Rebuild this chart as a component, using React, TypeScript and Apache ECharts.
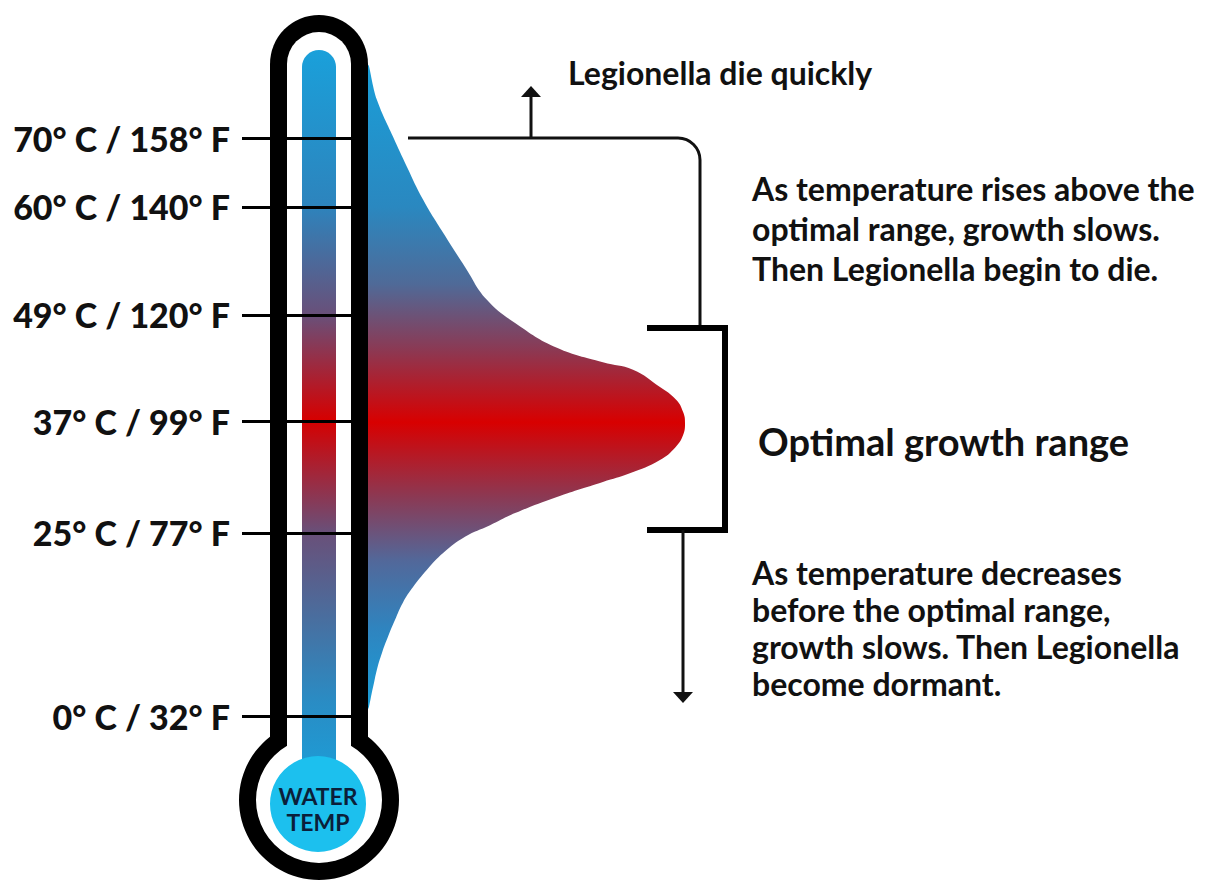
import React, { useEffect, useRef } from "react";
import * as echarts from "echarts";

// Temperature marks on the thermometer (gauge position: 0 = 0°C mark, 100 = 70°C mark)
const tickLabels = ["0° C / 32° F", "25° C / 77° F", "37° C / 99° F", "49° C / 120° F", "60° C / 140° F", "70° C / 158° F"];
const tickPositions = [0, 31.7, 51.0, 69.4, 88.1, 100];

// Relative growth (0-100) of Legionella read along the gauge
const curvePositions = [112.1, 106.6, 100.2, 95.0, 89.3, 83.6, 77.7, 72.0, 68.0, 63.7, 61.2, 59.9, 56.9, 54.7, 52.6, 50.7, 48.6, 46.5, 44.3, 42.0, 40.5, 37.9, 35.1, 33.0, 31.0, 28.2, 25.3, 22.3, 19.6, 16.6, 13.7, 10.9, 8.0, 5.0, 1.6];
const curveGrowth = [0, 2.8, 7.9, 12.3, 17.4, 23.7, 30.6, 37.5, 46.4, 59.6, 74.1, 83.6, 92.1, 97.2, 99.4, 100, 99.4, 97.0, 92.1, 82.6, 74.1, 59.6, 46.4, 38.5, 30.6, 23.7, 18.6, 14.2, 11.0, 8.5, 6.3, 4.4, 2.8, 1.6, 0];

const topNote = ["As temperature rises above the", "optimal range, growth slows.", "Then Legionella begin to die."];
const bottomNote = ["As temperature decreases", "before the optimal range,", "growth slows. Then Legionella", "become dormant."];
const middleNote = "Optimal growth range";
const arrowNote = "Legionella die quickly";
const bulbText = ["WATER", "TEMP"];

const FONT = "Lato, 'Noto Sans', sans-serif";
const INK = "#111111";

export default function App() {
  const ref = useRef<HTMLDivElement>(null);
  useEffect(() => {
    if (!ref.current) return;
    const chart = echarts.init(ref.current, undefined, { renderer: "svg" });

    const curveFill = new echarts.graphic.LinearGradient(0, 0, 0, 1, [
      { offset: 0, color: "#1a9ed8" },
      { offset: 0.22, color: "#2a88c0" },
      { offset: 0.34, color: "#4f6a98" },
      { offset: 0.44, color: "#8a3a55" },
      { offset: 0.555, color: "#d80000" },
      { offset: 0.673, color: "#8a3a55" },
      { offset: 0.77, color: "#52689a" },
      { offset: 0.875, color: "#2f84bf" },
      { offset: 1, color: "#1a9ed8" },
    ]);
    const columnFill = new echarts.graphic.LinearGradient(0, 0, 0, 1, [
      { offset: 0, color: "#1aa0da" },
      { offset: 0.21, color: "#2d84bd" },
      { offset: 0.36, color: "#6a4f78" },
      { offset: 0.5, color: "#d60000" },
      { offset: 0.65, color: "#6a4f78" },
      { offset: 0.88, color: "#2a8cc4" },
      { offset: 1, color: "#1aa0da" },
    ]);

    const G = 5; // graphic z
    const textStyle = (text: string, x: number, y: number, size: number, weight: any, align = "left", fill = INK) => ({
      type: "text",
      z: G + 1,
      style: { text, x, y, fontSize: size, fontWeight: weight, fontFamily: FONT, fill, textAlign: align, textVerticalAlign: "middle" },
    });

    const elements: any[] = [
      // thermometer body
      { type: "rect", z: G, shape: { x: 270, y: 15, width: 98, height: 760, r: [49, 49, 0, 0] }, style: { fill: "#000" } },
      { type: "circle", z: G, shape: { cx: 319, cy: 800, r: 80 }, style: { fill: "#000" } },
      { type: "rect", z: G, shape: { x: 287, y: 32, width: 64, height: 760, r: [32, 32, 0, 0] }, style: { fill: "#fff" } },
      { type: "circle", z: G, shape: { cx: 319, cy: 800, r: 63 }, style: { fill: "#fff" } },
      { type: "rect", z: G, shape: { x: 302, y: 50, width: 34, height: 740, r: [17, 17, 0, 0] }, style: { fill: columnFill } },
      { type: "circle", z: G, shape: { cx: 318, cy: 804, r: 48 }, style: { fill: "#1cc0ee" } },
      textStyle(bulbText[0], 318, 796, 23, "bold", "center", "#0b1f3a"),
      textStyle(bulbText[1], 318, 822, 23, "bold", "center", "#0b1f3a"),
      // upper connector line with rounded corner
      { type: "line", z: G, shape: { x1: 408, y1: 138, x2: 678, y2: 138 }, style: { stroke: INK, lineWidth: 3 } },
      { type: "arc", z: G, shape: { cx: 678, cy: 160, r: 22, startAngle: -Math.PI / 2, endAngle: 0, clockwise: true }, style: { stroke: INK, lineWidth: 3, fill: null } },
      { type: "line", z: G, shape: { x1: 700, y1: 160, x2: 700, y2: 328 }, style: { stroke: INK, lineWidth: 3 } },
      // up arrow
      { type: "line", z: G, shape: { x1: 531, y1: 138, x2: 531, y2: 96 }, style: { stroke: INK, lineWidth: 3 } },
      { type: "polygon", z: G, shape: { points: [[531, 86], [521, 97], [541, 97]] }, style: { fill: INK } },
      // bracket
      { type: "polyline", z: G, shape: { points: [[647, 328], [725, 328], [725, 530], [647, 530]] }, style: { stroke: "#000", lineWidth: 6, lineJoin: "miter", fill: null } },
      // down arrow
      { type: "line", z: G, shape: { x1: 683, y1: 530, x2: 683, y2: 694 }, style: { stroke: INK, lineWidth: 3 } },
      { type: "polygon", z: G, shape: { points: [[683, 703], [673, 692], [693, 692]] }, style: { fill: INK } },
      // notes
      textStyle(arrowNote, 568, 72, 32, "bold"),
      ...topNote.map((t, i) => textStyle(t, 752, 188 + i * 40, 32, "bold")),
      textStyle(middleNote, 758, 441, 38, "bold"),
      ...bottomNote.map((t, i) => textStyle(t, 752, 572 + i * 37, 32, "bold")),
    ];

    chart.setOption({
      animation: false,
      backgroundColor: "#ffffff",
      grid: { left: 368, width: 317, top: 716 - 5.78 * 120, height: 5.78 * 140 },
      xAxis: { type: "value", min: 0, max: 100, show: false },
      yAxis: {
        type: "value",
        min: -20,
        max: 120,
        z: 10,
        axisLine: { show: false },
        splitLine: { show: false },
        axisTick: { show: true, customValues: tickPositions, length: 126, lineStyle: { color: "#000", width: 3 } },
        axisLabel: {
          customValues: tickPositions,
          margin: 138,
          color: INK,
          fontFamily: FONT,
          fontSize: 34,
          fontWeight: 900,
          formatter: (v: number) => {
            const i = tickPositions.findIndex((p) => Math.abs(p - v) < 0.01);
            return i >= 0 ? tickLabels[i] : "";
          },
        },
      },
      series: [
        {
          type: "custom",
          z: 1,
          silent: true,
          data: curveGrowth.map((g, i) => [g, curvePositions[i]]),
          encode: { x: 0, y: 1 },
          renderItem: (params: any, api: any) => {
            if (params.dataIndex !== 0) return null;
            const pts = curveGrowth.map((g, i) => api.coord([g, curvePositions[i]]));
            return { type: "polygon", shape: { points: pts, smooth: 0.45 }, style: { fill: curveFill } };
          },
        },
      ],
      graphic: { elements },
    });
    return () => chart.dispose();
  }, []);
  return <div ref={ref} style={{ position: "absolute", left: 0, top: 0, width: 1206, height: 882 }} />;
}
